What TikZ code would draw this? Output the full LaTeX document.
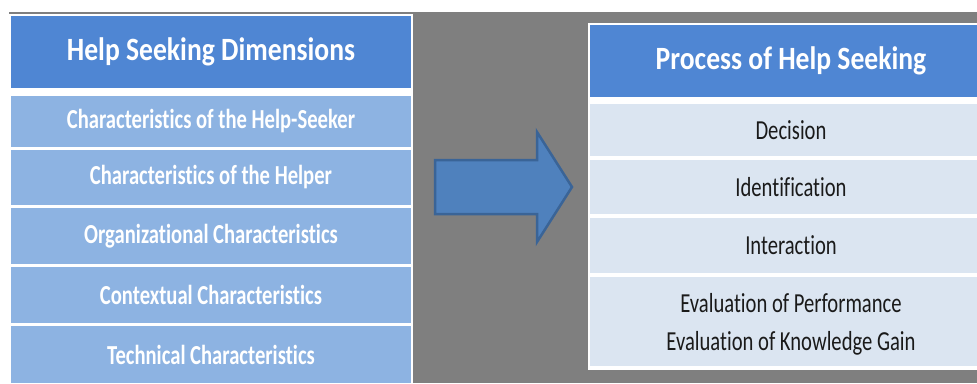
\documentclass[tikz,border=0pt]{standalone}
\usepackage{fontspec}
\setmainfont{Carlito}[FakeStretch=0.85,Ligatures=NoCommon]
\newfontfamily\narrowfont{Carlito}[FakeStretch=0.75,Ligatures=NoCommon]
\definecolor{panelgrey}{HTML}{7F7F7F}
\definecolor{headblue}{HTML}{4F86D3}
\definecolor{rowblue}{HTML}{8DB3E2}
\definecolor{rowpale}{HTML}{DBE5F1}
\definecolor{arrowfill}{HTML}{4F81BD}
\definecolor{arrowline}{HTML}{3A6497}
\definecolor{ink}{HTML}{1A1A1A}
\begin{document}
\begin{tikzpicture}[x=1pt,y=-1pt,
  cell/.style={rectangle,inner sep=0pt,outer sep=0pt,align=center},
  headcell/.style={cell,fill=headblue,text=white,font=\fontsize{32.5}{38}\selectfont\bfseries},
  dimcell/.style={cell,fill=rowblue,text=white,font=\narrowfont\fontsize{27.5}{32}\selectfont\bfseries},
  steptext/.style={text=ink,font=\narrowfont\fontsize{27.5}{38}\selectfont,align=center},
  stepcell/.style={cell,fill=rowpale,steptext},
]
\useasboundingbox (0,0) rectangle (977,383);
\clip (0,0) rectangle (977,383);
% backdrop
\fill[white] (0,0) rectangle (977,383);
\fill[panelgrey] (9,12) rectangle (977,383);
% left panel: help seeking dimensions
\fill[white] (9,14) rectangle (413,383);
\node[headcell,minimum width=400pt,minimum height=72pt] (dimhead) at (211,52) {Help Seeking Dimensions};
\node[dimcell,minimum width=400pt,minimum height=51pt] (dim1) at (211,121.5) {Characteristics of the Help-Seeker};
\node[dimcell,minimum width=400pt,minimum height=55pt] (dim2) at (211,177.5) {Characteristics of the Helper};
\node[dimcell,minimum width=400pt,minimum height=56pt] (dim3) at (211,236) {Organizational Characteristics};
\node[dimcell,minimum width=400pt,minimum height=56pt] (dim4) at (211,295) {Contextual Characteristics};
\node[dimcell,minimum width=400pt,minimum height=57pt] (dim5) at (211,354.5) {Technical Characteristics};
% block arrow
\draw[fill=arrowfill,draw=arrowline,line width=2.5pt,line join=miter]
  (435,160) -- (537,160) -- (537,132) -- (572,187) -- (537,242) -- (537,214) -- (435,214) -- cycle;
% right panel: process of help seeking
\fill[white] (588,23) rectangle (995,370);
\node[headcell,minimum width=402pt,minimum height=72pt] (prochead) at (791,61) {Process of Help Seeking};
\node[stepcell,minimum width=402pt,minimum height=52pt] (proc1) at (791,130) {Decision};
\node[stepcell,minimum width=402pt,minimum height=54pt] (proc2) at (791,187) {Identification};
\node[stepcell,minimum width=402pt,minimum height=55pt] (proc3) at (791,245.5) {Interaction};
\node[cell,fill=rowpale,minimum width=402pt,minimum height=89pt,
  label={[steptext,inner sep=0pt,yshift=-2.5pt]center:{Evaluation of Performance\\Evaluation of Knowledge Gain}}]
  (proc4) at (791,321.5) {};
\end{tikzpicture}
\end{document}
